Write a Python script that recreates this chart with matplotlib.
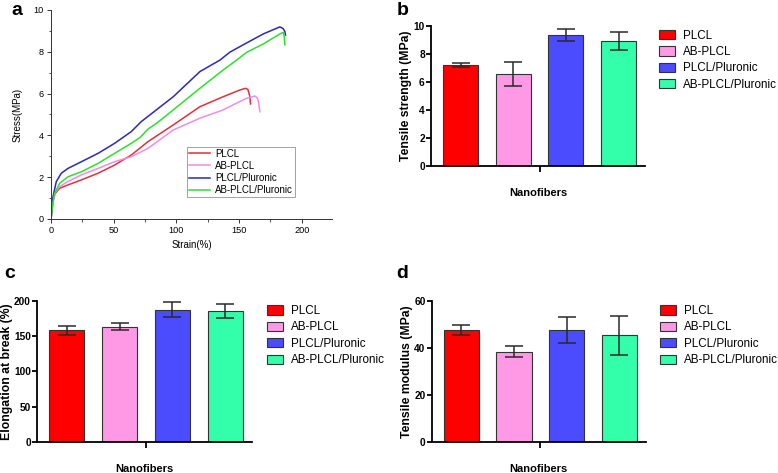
import matplotlib
matplotlib.use("Agg")
import matplotlib.pyplot as plt
from matplotlib.ticker import MultipleLocator
from matplotlib.patches import Patch

plt.rcParams['font.family'] = ['Liberation Sans', 'DejaVu Sans']

# ---------------- data ----------------
groups = ["PLCL", "AB-PLCL", "PLCL/Pluronic", "AB-PLCL/Pluronic"]

# panel a: stress-strain curves
plcl_strain = [0, 1.5, 3, 6.9, 13.5, 24.2, 37.5, 50.7, 64, 77.3, 97.5, 118.7, 137.3, 150.6, 155, 157, 158.6, 159.1]
plcl_stress = [0, 0.8, 1.2, 1.47, 1.63, 1.87, 2.19, 2.58, 3.06, 3.70, 4.5, 5.37, 5.85, 6.17, 6.25, 6.2, 5.85, 5.5]

abplcl_strain = [0, 1.5, 3, 6.9, 13.5, 24.2, 37.5, 50.7, 64, 77.3, 97.5, 118.7, 137.3, 150.6, 155.9, 162.5, 164.5, 165.5, 166.5]
abplcl_stress = [0, 0.85, 1.25, 1.55, 1.79, 2.11, 2.42, 2.74, 2.98, 3.38, 4.26, 4.82, 5.22, 5.62, 5.77, 5.88, 5.8, 5.6, 5.13]

plu_strain = [0, 1.6, 4.2, 8.2, 13.5, 24.2, 37.5, 50.7, 64, 72, 97.5, 118.7, 134.7, 142.6, 153.2, 169.2, 182.5, 185.1, 186.5, 187]
plu_stress = [0, 1.07, 1.79, 2.19, 2.42, 2.74, 3.14, 3.62, 4.18, 4.66, 5.85, 7.05, 7.6, 7.98, 8.33, 8.85, 9.19, 9.11, 8.97, 8.8]

abplu_strain = [0, 1.5, 2.9, 6.9, 13.5, 24.2, 37.5, 50.7, 64, 71, 77.3, 84.2, 97.5, 118.7, 137.3, 148, 155.9, 169.2, 182.5, 185.1, 185.9, 186.5]
abplu_stress = [0, 0.8, 1.23, 1.71, 2.02, 2.26, 2.66, 3.14, 3.62, 3.9, 4.3, 4.58, 5.22, 6.25, 7.13, 7.6, 7.97, 8.37, 8.85, 8.93, 8.77, 8.33]

# panel b: tensile strength (MPa)
strength_mean = [7.22, 6.57, 9.36, 8.92]
strength_err = [0.17, 0.86, 0.40, 0.65]

# panel c: elongation at break (%)
elong_mean = [158.5, 163.5, 187.5, 185.5]
elong_err = [6.2, 4.6, 10.6, 10.0]

# panel d: tensile modulus (MPa)
modulus_mean = [47.7, 38.4, 47.6, 45.3]
modulus_err = [2.2, 2.4, 5.5, 8.4]

line_colors = ["#e0303c", "#f08ce6", "#2a2ab4", "#2ee02e"]
bar_colors = ["#ff0000", "#ff99e6", "#4c4cff", "#33ffaa"]

# ---------------- figure ----------------
fig = plt.figure(figsize=(7.78, 4.73), dpi=100)

# panel a
axa = fig.add_axes([0.0656, 0.537, 0.361, 0.442])
curves = [(plcl_strain, plcl_stress), (abplcl_strain, abplcl_stress),
          (plu_strain, plu_stress), (abplu_strain, abplu_stress)]
for (sx, sy), c, lab in zip(curves, line_colors, groups):
    axa.plot(sx, sy, color=c, lw=1.1, label=lab)
axa.set_xlim(0, 224)
axa.set_ylim(0, 10)
axa.xaxis.set_major_locator(MultipleLocator(50))
axa.xaxis.set_minor_locator(MultipleLocator(25))
axa.yaxis.set_major_locator(MultipleLocator(2))
axa.yaxis.set_minor_locator(MultipleLocator(1))
for s in ["top", "right"]:
    axa.spines[s].set_visible(False)
for s in ["left", "bottom"]:
    axa.spines[s].set_linewidth(0.7)
    axa.spines[s].set_color("#333333")
axa.tick_params(which="major", direction="out", length=3, width=0.7, labelsize=6.6, colors="#333333", labelcolor="black", pad=2)
axa.tick_params(which="minor", direction="out", length=1.8, width=0.6, colors="#333333")
axa.set_xlabel("Strain(%)", fontsize=7, labelpad=4)
axa.set_ylabel("Stress(MPa)", fontsize=7)
axa.yaxis.set_label_coords(-0.103, 0.5)
leg = axa.legend(loc="lower left", bbox_to_anchor=(0.484, 0.105), fontsize=7,
                 frameon=True, fancybox=False, edgecolor="#777777",
                 handlelength=2.2, handletextpad=0.5, labelspacing=0.22,
                 borderpad=0.2, borderaxespad=0)
leg.get_frame().set_linewidth(0.6)

# bar panels
def bar_panel(rect, means, errs, ymax, ystep, ylabel, ylab_x, leg_anchor):
    ax = fig.add_axes(rect)
    pos = list(range(len(groups)))
    ax.bar(pos, means, width=0.665, color=bar_colors, edgecolor="#333333", linewidth=0.8, zorder=2)
    ax.errorbar(pos, means, yerr=errs, fmt="none", ecolor="#2a2a2a", elinewidth=1.1,
                capsize=6.8, capthick=1.1, zorder=3)
    ax.set_xlim(-0.56, 3.5)
    ax.set_ylim(0, ymax)
    ax.yaxis.set_major_locator(MultipleLocator(ystep))
    ax.set_xticks([1.5])
    ax.set_xticklabels([""])
    for s in ["top", "right"]:
        ax.spines[s].set_visible(False)
    for s in ["left", "bottom"]:
        ax.spines[s].set_linewidth(1.3)
    ax.tick_params(axis="y", direction="out", length=3.5, width=1.3, labelsize=7.3, pad=1)
    ax.tick_params(axis="x", direction="out", length=4, width=1.3)
    for t in ax.get_yticklabels():
        t.set_fontweight("bold")
    ax.set_ylabel(ylabel, fontsize=8.8, fontweight="bold")
    ax.yaxis.set_label_coords(ylab_x, 0.5)
    ax.set_xlabel("Nanofibers", fontsize=8, fontweight="bold", labelpad=8.5)
    handles = [Patch(facecolor=c, edgecolor="#333333", linewidth=0.8) for c in bar_colors]
    ax.legend(handles, groups, loc="upper left", bbox_to_anchor=leg_anchor, frameon=False,
              fontsize=8.4, handlelength=1.4, handleheight=0.85, handletextpad=0.7,
              labelspacing=0.38, borderpad=0, borderaxespad=0)
    return ax

bar_panel([0.554, 0.649, 0.275, 0.296], strength_mean, strength_err, 10, 2,
          "Tensile strength (MPa)", -0.089, (1.065, 0.975))
bar_panel([0.0476, 0.0662, 0.276, 0.2975], elong_mean, elong_err, 200, 50,
          "Elongation at break (%)", -0.112, (1.07, 0.972))
bar_panel([0.555, 0.0662, 0.275, 0.2975], modulus_mean, modulus_err, 60, 20,
          "Tensile modulus (MPa)", -0.089, (1.065, 0.972))

# panel letters
for x, y, s in [(0.015, 0.968, "a"), (0.510, 0.968, "b"), (0.006, 0.412, "c"), (0.509, 0.412, "d")]:
    fig.text(x, y, s, fontsize=14, fontweight="bold", va="baseline", ha="left")

fig.savefig("out.png", dpi=100)
